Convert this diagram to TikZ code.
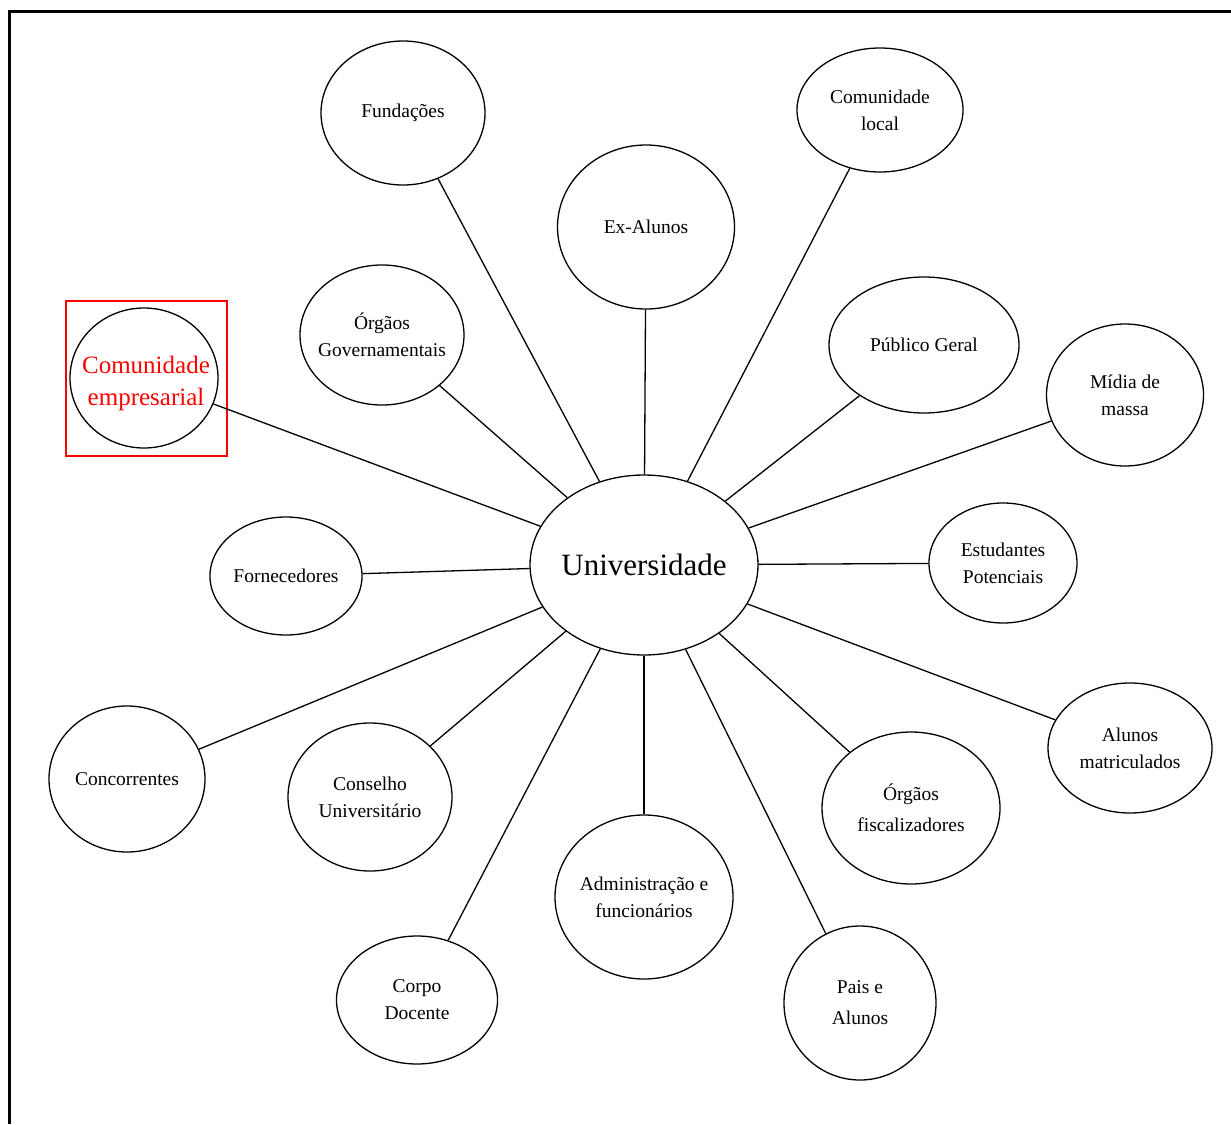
\documentclass[tikz,border=0pt]{standalone}
\usepackage{fontspec}
\setmainfont{Liberation Serif}
\usetikzlibrary{shapes.geometric}

\begin{document}
\begin{tikzpicture}[x=1pt,y=-1pt,line width=1.3pt,
        p/.style={ellipse, draw, fill=white, inner sep=-6pt, align=center,
                        font=\fontsize{19.5}{27}\selectfont}]
    \useasboundingbox (0,0) rectangle (1231,1124);
    % frame
    \draw[line width=3pt] (9.5,1124) -- (9.5,11.5) -- (1231,11.5);

    \node[p, minimum width=228pt, minimum height=180pt,
          font=\fontsize{31}{34}\selectfont] (u) at (644,565) {Universidade};

    \node[p, minimum width=164pt, minimum height=144pt] (fund) at (403,113) {Fundações};
    \node[p, minimum width=166pt, minimum height=124pt] (cloc) at (880,110) {Comunidade\\local};
    \node[p, minimum width=177pt, minimum height=164pt] (exal) at (646,227) {Ex-Alunos};
    \node[p, minimum width=164pt, minimum height=140pt] (ogov) at (382,335) {Órgãos\\Governamentais};
    \node[p, minimum width=190pt, minimum height=136pt] (pub) at (924,345) {Público Geral};
    \node[p, minimum width=157pt, minimum height=142pt] (midia) at (1125,395) {Mídia de\\massa};
    \node[p, minimum width=148pt, minimum height=140pt] (cemp) at (144,378) {};
    \node[text=red, align=center, inner sep=0pt,
          font=\fontsize{25}{32}\selectfont] (cempt) at (146,383) {Comunidade\\empresarial};
    \node[p, minimum width=152pt, minimum height=118pt] (forn) at (286,576) {Fornecedores};
    \node[p, minimum width=148pt, minimum height=120pt] (est) at (1003,563) {Estudantes\\Potenciais};
    \node[p, minimum width=156pt, minimum height=146pt] (conc) at (127,779) {Concorrentes};
    \node[p, minimum width=164pt, minimum height=148pt] (cons) at (370,797) {Conselho\\Universitário};
    \node[p, minimum width=178pt, minimum height=164pt] (adm) at (644,897) {Administração e\\funcionários};
    \node[p, minimum width=178pt, minimum height=152pt,
          font=\fontsize{19.5}{31}\selectfont] (ofis) at (911,808) {Órgãos\\fiscalizadores};
    \node[p, minimum width=164pt, minimum height=130pt] (alm) at (1130,748) {Alunos\\matriculados};
    \node[p, minimum width=161pt, minimum height=128pt] (doc) at (417,1000) {Corpo\\Docente};
    \node[p, minimum width=152pt, minimum height=154pt,
          font=\fontsize{19.5}{31}\selectfont] (pais) at (860,1003) {Pais e\\Alunos};

    % highlight
    \draw[red, line width=1.5pt] (66,301) rectangle (227,456);

    \foreach \n in {fund,cloc,exal,ogov,pub,midia,cemp,forn,est,conc,cons,adm,ofis,alm,doc,pais}
        \draw (u) -- (\n);
\end{tikzpicture}
\end{document}
